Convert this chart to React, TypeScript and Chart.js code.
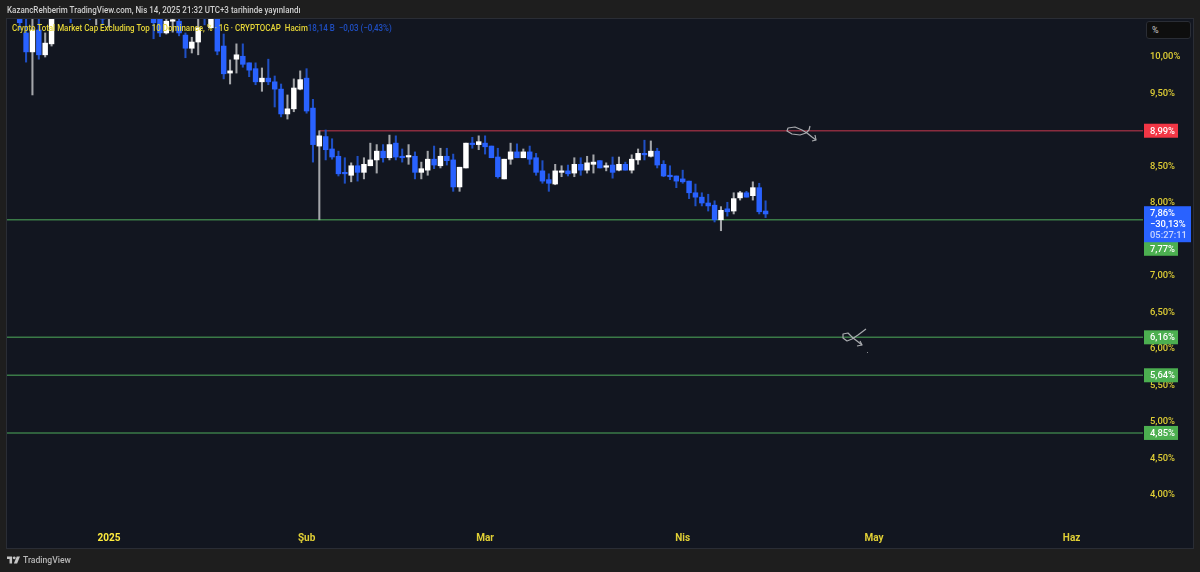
import { useEffect, useRef } from "react"
import { Chart, registerables } from "chart.js"

Chart.register(...registerables)

// day number counted from 2025-01-01, candles above the visible range are left out
const days = [
  -14, -13, -12, -11, -10, -9, -6, -3, -2, -1, 0,
  7, 8, 9, 10, 11, 12, 13, 14, 15, 16, 17, 18, 19, 20, 21, 22, 23, 24, 25, 26, 27, 28, 29, 30,
  31, 32, 33, 34, 35, 36, 37, 38, 39, 40, 41, 42, 43, 44, 45, 46, 47, 48, 49, 50, 51, 52, 53, 54, 55, 56, 57, 58,
  59, 60, 61, 62, 63, 64, 65, 66, 67, 68, 69, 70, 71, 72, 73, 74, 75, 76, 77, 78, 79, 80, 81, 82, 83, 84, 85, 86, 87, 88, 89,
  90, 91, 92, 93, 94, 95, 96, 97, 98, 99, 100, 101, 102, 103,
]
const opens = [
  10.6, 10.33, 10.07, 10.37, 10.03, 10.18, 10.8, 10.8, 10.65, 10.7, 10.6,
  10.6, 10.52, 10.33, 10.49, 10.49, 10.3, 10.12, 10.205, 10.7, 10.4, 10.6, 10.15, 9.78, 9.97, 10.01, 9.92, 9.84, 9.66, 9.71, 9.66, 9.56, 9.22, 9.29, 9.56,
  9.71, 9.3, 8.78, 8.91, 8.74, 8.64, 8.41, 8.38, 8.51, 8.42, 8.51, 8.59, 8.71, 8.62, 8.82, 8.64, 8.63, 8.64, 8.42, 8.45, 8.6, 8.51, 8.64, 8.59, 8.22, 8.48, 8.82, 8.8,
  8.82, 8.78, 8.63, 8.33, 8.6, 8.7, 8.62, 8.7, 8.62, 8.44, 8.32, 8.26, 8.42, 8.44, 8.41, 8.53, 8.45, 8.53, 8.58, 8.49, 8.52, 8.45, 8.53, 8.45, 8.59, 8.68, 8.64, 8.71, 8.53, 8.38, 8.37,
  8.33, 8.3, 8.14, 8.08, 8.0, 7.97, 7.77, 7.92, 7.89, 8.07, 8.14, 8.1, 8.21, 7.89,
]
const highs = [
  10.65, 10.55, 10.55, 10.55, 10.33, 10.6, 10.9, 10.9, 10.8, 10.8, 10.8,
  10.7, 10.55, 10.55, 10.55, 10.55, 10.33, 10.27, 10.55, 10.8, 10.7, 10.7, 10.315, 9.96, 10.18, 10.18, 9.92, 9.92, 9.85, 9.97, 9.74, 9.63, 9.48, 9.7, 9.81,
  9.84, 9.42, 8.99, 9.0, 8.88, 8.71, 8.62, 8.55, 8.64, 8.62, 8.82, 8.8, 8.8, 8.93, 8.92, 8.74, 8.8, 8.7, 8.56, 8.71, 8.78, 8.75, 8.75, 8.67, 8.49, 8.82, 8.9, 8.92,
  8.92, 8.78, 8.75, 8.6, 8.82, 8.81, 8.74, 8.78, 8.68, 8.58, 8.4, 8.53, 8.51, 8.52, 8.62, 8.62, 8.64, 8.66, 8.58, 8.55, 8.63, 8.63, 8.56, 8.66, 8.74, 8.86, 8.85, 8.75, 8.58, 8.51, 8.37,
  8.45, 8.3, 8.26, 8.14, 8.12, 8.03, 7.95, 8.01, 8.14, 8.16, 8.16, 8.29, 8.27, 8.03,
]
const lows = [
  10.37, 9.93, 9.48, 9.97, 10.0, 10.15, 10.47, 10.51, 10.44, 10.44, 10.41,
  10.25, 10.28, 10.315, 10.34, 10.29, 9.99, 10.055, 10.03, 10.44, 10.4, 10.03, 9.7, 9.63, 9.78, 9.86, 9.73, 9.62, 9.53, 9.62, 9.315, 9.18, 9.15, 9.25, 9.55,
  9.23, 8.56, 7.77, 8.59, 8.6, 8.37, 8.27, 8.29, 8.3, 8.33, 8.51, 8.41, 8.56, 8.59, 8.59, 8.56, 8.53, 8.33, 8.33, 8.38, 8.47, 8.48, 8.52, 8.16, 8.16, 8.48, 8.75, 8.73,
  8.67, 8.62, 8.34, 8.33, 8.53, 8.62, 8.62, 8.53, 8.38, 8.27, 8.16, 8.25, 8.36, 8.37, 8.36, 8.38, 8.41, 8.41, 8.48, 8.44, 8.34, 8.44, 8.45, 8.41, 8.53, 8.59, 8.63, 8.48, 8.36, 8.32, 8.21,
  8.27, 8.06, 7.96, 7.96, 7.89, 7.74, 7.62, 7.82, 7.85, 8.04, 8.08, 8.04, 7.85, 7.8,
]
const closes = [
  10.47, 10.07, 10.37, 10.03, 10.19, 10.6, 10.7, 10.7, 10.75, 10.52, 10.7,
  10.47, 10.33, 10.49, 10.51, 10.33, 10.12, 10.205, 10.4, 10.6, 10.6, 10.08, 9.77, 9.81, 10.03, 9.9, 9.82, 9.66, 9.71, 9.66, 9.56, 9.22, 9.29, 9.575, 9.69,
  9.26, 8.8, 8.92, 8.73, 8.63, 8.4, 8.4, 8.51, 8.42, 8.53, 8.59, 8.71, 8.62, 8.8, 8.63, 8.62, 8.64, 8.42, 8.47, 8.6, 8.52, 8.64, 8.58, 8.22, 8.49, 8.82, 8.8, 8.84,
  8.77, 8.62, 8.36, 8.6, 8.7, 8.62, 8.7, 8.6, 8.42, 8.3, 8.27, 8.44, 8.44, 8.4, 8.53, 8.45, 8.55, 8.56, 8.48, 8.51, 8.42, 8.53, 8.45, 8.6, 8.68, 8.66, 8.71, 8.52, 8.37, 8.36, 8.3,
  8.29, 8.14, 8.08, 8.0, 7.96, 7.77, 7.9, 7.88, 8.06, 8.14, 8.08, 8.21, 7.88, 7.85,
]

const yTicks = [10, 9.5, 8.5, 8, 7, 6.5, 6, 5.5, 5, 4.5, 4]
const monthDays = [0, 31, 59, 90, 120, 151]
const monthLabels = ["2025", "Şub", "Mar", "Nis", "May", "Haz"]

const resistanceLevels = [8.99]
const supportLevels = [7.77, 6.16, 5.64, 4.85]
const lastPrice = 7.86
const priceBoxLines = ["7,86%", "−30,13%", "05:27:11"]

const BLUE = "#2962ff"
const RED = "#f23645"
const GREEN = "#4caf50"
const YELLOW = "#e0cf35"
const X_MIN = -15.99
const X_MAX = 162.2
const TICK_FONT = '500 9.4px Roboto'

const fmt = (v: number) => v.toFixed(2).replace(".", ",") + "%"

const scribble = (ctx: CanvasRenderingContext2D, pts: number[][]) => {
  ctx.beginPath()
  pts.forEach(([x, y], i) => (i ? ctx.lineTo(x, y) : ctx.moveTo(x, y)))
  ctx.stroke()
}

// price badges on the axis and the two hand drawn arrows
const overlayPlugin = {
  id: "overlay",
  afterDatasetsDraw(chart: any) {
    const { ctx } = chart
    const y = chart.scales.y
    const badge = (val: number, color: string, shift = 0) => {
      const cy = y.getPixelForValue(val) + shift
      ctx.fillStyle = color
      ctx.fillRect(1144, cy - 7, 34, 14)
      ctx.fillStyle = "#ffffff"
      ctx.font = TICK_FONT
      ctx.textBaseline = "middle"
      ctx.textAlign = "left"
      ctx.fillText(fmt(val), 1150, cy + 0.5)
    }
    ctx.save()
    resistanceLevels.forEach((v) => badge(v, RED))
    supportLevels.forEach((v) => badge(v, GREEN, v === 7.77 ? 29 : 0))

    const cy = y.getPixelForValue(lastPrice) + 11
    ctx.fillStyle = BLUE
    ctx.fillRect(1144, cy - 18, 47, 36)
    ctx.textBaseline = "middle"
    ctx.textAlign = "left"
    ctx.font = TICK_FONT
    priceBoxLines.forEach((t, i) => {
      ctx.fillStyle = i === 2 ? "#c9d6ff" : "#ffffff"
      ctx.fillText(t, 1150, cy - 11 + i * 11)
    })

    ctx.strokeStyle = "#a9abaf"
    ctx.lineWidth = 1.2
    ctx.lineJoin = "round"
    scribble(ctx, [[810, 126], [809, 130], [806, 133], [800, 135], [792, 134], [787, 131], [788, 128], [795, 127], [802, 130], [807, 133], [812, 137], [816, 140]])
    scribble(ctx, [[812, 141], [816, 140], [815, 135]])
    scribble(ctx, [[866, 329], [858, 335], [852, 339], [847, 341], [843, 338], [843, 334], [848, 333], [853, 338], [857, 341], [862, 345]])
    scribble(ctx, [[857, 346], [862, 345], [860, 341]])
    ctx.fillStyle = "#8a8c90"
    ctx.fillRect(867, 352, 1, 1)
    ctx.restore()
  },
}

export default function App() {
  const chartRef = useRef<HTMLCanvasElement>(null)
  const chartInstance = useRef<Chart | null>(null)

  useEffect(() => {
    if (!chartRef.current) return
    const ctx = chartRef.current.getContext("2d")
    if (!ctx) return

    const isUp = days.map((_, i) => closes[i] >= opens[i])

    chartInstance.current = new Chart(ctx, {
      type: "bar",
      data: {
        datasets: [
          ...resistanceLevels.map((v) => ({
            type: "line" as const,
            data: [{ x: 33, y: v }, { x: X_MAX, y: v }],
            borderColor: "#8a2c3e",
            borderWidth: 1.4,
            pointRadius: 0,
            order: 4,
          })),
          ...supportLevels.map((v) => ({
            type: "line" as const,
            data: [{ x: X_MIN, y: v }, { x: X_MAX, y: v }],
            borderColor: "#3a7a47",
            borderWidth: 1.4,
            pointRadius: 0,
            order: 4,
          })),
          {
            // wicks
            data: days.map((d, i) => ({ x: d, y: [lows[i], highs[i]] })),
            backgroundColor: days.map((_, i) => (isUp[i] ? "#a4a6aa" : "#1f4fc4")),
            barThickness: 1.4,
            grouped: false,
            order: 2,
          },
          {
            // bodies
            data: days.map((d, i) => ({ x: d, y: [Math.min(opens[i], closes[i]), Math.max(opens[i], closes[i])] })),
            backgroundColor: days.map((_, i) => (isUp[i] ? "#ffffff" : BLUE)),
            barThickness: 4.8,
            minBarLength: 1.5,
            grouped: false,
            order: 1,
          },
        ],
      } as any,
      options: {
        responsive: false,
        animation: false,
        events: [],
        layout: { padding: { left: 7, top: 19, right: 8, bottom: 24 } },
        plugins: { legend: { display: false }, tooltip: { enabled: false } },
        scales: {
          x: {
            type: "linear",
            offset: false,
            min: X_MIN,
            max: X_MAX,
            grid: { display: false, drawTicks: false },
            border: { display: false },
            afterBuildTicks: (s: any) => {
              s.ticks = monthDays.map((value) => ({ value }))
            },
            afterFit: (s: any) => {
              s.height = 23
            },
            ticks: {
              autoSkip: false,
              maxRotation: 0,
              padding: 7,
              color: (c: any) => (c.tick?.value === 0 ? "#ffec3d" : YELLOW),
              font: { family: "Roboto", size: 10, weight: "bold" },
              callback: (v: any) => monthLabels[monthDays.indexOf(Number(v))],
            },
          },
          y: {
            type: "linear",
            position: "right",
            min: 10.7808 - 525 / 73,
            max: 10.7808 - 19 / 73,
            grid: { display: false, drawTicks: false },
            border: { display: false },
            afterBuildTicks: (s: any) => {
              s.ticks = yTicks.map((value) => ({ value }))
            },
            afterFit: (s: any) => {
              s.width = 49
            },
            ticks: {
              autoSkip: false,
              padding: 7,
              color: YELLOW,
              font: { family: "Roboto", size: 9.4, weight: "500" },
              callback: (v: any) => fmt(Number(v)),
            },
          },
        },
      } as any,
      plugins: [overlayPlugin],
    })

    return () => {
      chartInstance.current?.destroy()
    }
  }, [])

  const abs = (style: any) => ({ position: "absolute", whiteSpace: "pre", ...style })

  return (
    <div style={{ position: "fixed", left: 0, top: 0, width: 1200, height: 572, background: "#1e1e1e", overflow: "hidden", fontFamily: "Roboto" }}>
      <div style={abs({ left: 6, top: 18, width: 1186, height: 529, background: "#121620", border: "1px solid #2a2d35" })} />
      <canvas ref={chartRef} width={1200} height={572} style={{ position: "absolute", left: 0, top: 0 }} />
      <div style={abs({ left: 7, top: 4, fontSize: 9, lineHeight: "12px", fontWeight: 500, color: "#cfcfcf", transform: "scaleX(0.89)", transformOrigin: "left" })}>
        KazancRehberim TradingView.com, Nis 14, 2025 21:32 UTC+3 tarihinde yayınlandı
      </div>
      <div style={abs({ left: 12, top: 22, fontSize: 9, lineHeight: "12px", fontWeight: 500, color: "#e6d637", transform: "scaleX(0.885)", transformOrigin: "left" })}>
        Crypto Total Market Cap Excluding Top 10 Dominance, % · 1G · CRYPTOCAP  Hacim
        <span style={{ color: "#1f4fc4" }}>18,14 B  −0,03 (−0,43%)</span>
      </div>
      <div style={abs({ left: 1146, top: 21, width: 43, height: 16, background: "#0e0e0e", border: "1px solid #2a2d35", borderRadius: 3 })} />
      <div style={abs({ left: 1152, top: 24, fontSize: 9, lineHeight: "12px", color: "#c8c8c8" })}>%</div>
      <svg style={{ position: "absolute", left: 7, top: 556 }} width={13} height={8} viewBox="0 0 36 20">
        <path d="M0 0H14V20H7V7H0Z M20 0A4 4 0 1 1 19.9 0Z M27 0H36L28 20H19Z" fill="#c4c4c4" />
      </svg>
      <div style={abs({ left: 23, top: 554, fontSize: 8.6, lineHeight: "12px", fontWeight: 500, color: "#b8b8b8" })}>TradingView</div>
    </div>
  )
}
